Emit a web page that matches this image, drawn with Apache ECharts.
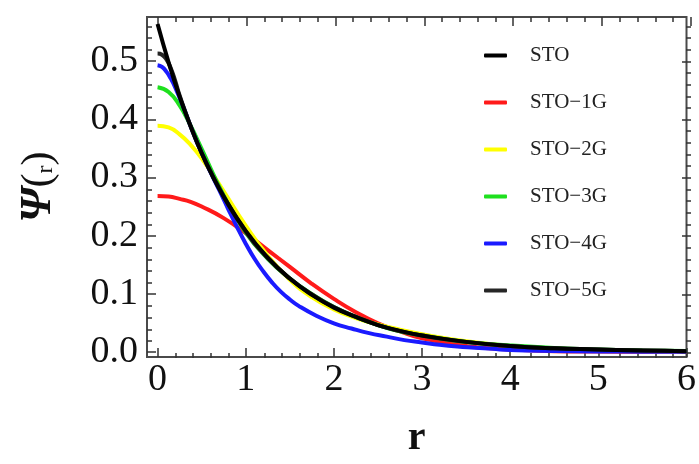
<!DOCTYPE html>
<html>
<head>
<meta charset="utf-8">
<script src="https://cdn.jsdelivr.net/npm/echarts@6/dist/echarts.min.js"></script>
<style>html,body{margin:0;padding:0;background:#fff}#c{width:699px;height:464px}</style>
</head>
<body>
<div id="c"></div>
<script>
// ---- data ----
const seriesNames = ['STO', 'STO\u22121G', 'STO\u22122G', 'STO\u22123G', 'STO\u22124G', 'STO\u22125G'];

const rSTO = [0,0.125,0.25,0.375,0.5,0.625,0.75,1,1.25,1.5,1.75,2,2.25,2.5,2.75,3,3.5,4,4.5,5,5.5,6];
const vSTO = [0.564,0.498,0.439,0.388,0.342,0.302,0.267,0.208,0.162,0.126,0.098,0.076,0.060,0.046,0.036,0.028,0.017,0.010,0.006,0.004,0.002,0.001];

const rG = [0,0.125,0.25,0.375,0.5,0.75,1,1.25,1.5,1.75,2,2.25,2.5,2.75,3,3.5,4,4.5,5,5.5,6];
const v1G = [0.268,0.267,0.263,0.258,0.250,0.230,0.204,0.175,0.146,0.117,0.091,0.068,0.049,0.035,0.023,0.010,0.004,0.001,0.0003,0.0001,0];
const v2G = [0.389,0.386,0.374,0.356,0.333,0.276,0.217,0.165,0.124,0.094,0.073,0.058,0.047,0.038,0.030,0.018,0.010,0.0055,0.0027,0.0012,0.0005];
const v3G = [0.455,0.447,0.424,0.389,0.349,0.269,0.205,0.160,0.126,0.099,0.077,0.060,0.046,0.035,0.028,0.017,0.011,0.0066,0.0039,0.0022,0.0012];

const r4G = [0,0.05,0.1,0.15,0.2,0.3,0.4,0.5,0.6,0.7,0.8,0.9,1.0,1.1,1.2,1.3,1.4,1.5,1.6,1.8,2.0,2.2,2.4,2.6,2.8,3.0,3.2,3.4,3.6,3.8,4.0,4.5,5,5.5,6];
const v4G = [0.493,0.490,0.482,0.470,0.455,0.418,0.378,0.342,0.309,0.278,0.246,0.215,0.186,0.160,0.138,0.119,0.103,0.090,0.079,0.062,0.049,0.040,0.032,0.026,0.020,0.016,0.012,0.009,0.007,0.005,0.003,0.0015,0.0006,0.0002,0.0001];

const r5G = [0,0.05,0.1,0.15,0.2,0.25,0.375,0.5,0.75,1,1.25,1.5,1.75,2,2.5,3,3.5,4,4.5,5,5.5,6];
const v5G = [0.513,0.511,0.503,0.488,0.466,0.441,0.388,0.342,0.267,0.207,0.161,0.126,0.099,0.077,0.046,0.028,0.017,0.010,0.006,0.004,0.002,0.001];

const xTickLabels = [0,1,2,3,4,5,6];
const yTickLabels = [0,0.1,0.2,0.3,0.4,0.5];

// ---- chart ----
const colors = {
  'STO': '#000000',
  'STO\u22121G': '#ff1a1a',
  'STO\u22122G': '#ffff00',
  'STO\u22123G': '#1ee01e',
  'STO\u22124G': '#1a1aff',
  'STO\u22125G': '#262626'
};
const zip = (a, b) => a.map((x, i) => [x, b[i]]);

const xMinor = [];
for (let i = 1; i < 30; i++) { if (i % 5) xMinor.push(+(i * 0.2).toFixed(2)); }
const yMinor = [];
for (let i = 1; i <= 28; i++) { if (i % 5) yMinor.push(+(i * 0.02).toFixed(2)); }

const XMIN = -0.12, XMAX = 6, YMIN = -0.009, YMAX = 0.576;
const serif = 'Liberation Serif';
const tickColor = '#333';
const G = { left: 147, right: 8, top: 17, bottom: 106 };

function xAx(gi, pos, vals, len, labels) {
  return {
    gridIndex: gi, type: 'value', position: pos, min: XMIN, max: XMAX, offset: 0,
    axisLine: { show: false, onZero: false }, splitLine: { show: false },
    axisTick: { show: true, inside: true, length: len, customValues: vals, lineStyle: { color: tickColor, width: 1.5 } },
    axisLabel: labels ? { show: true, customValues: vals, fontFamily: serif, fontSize: 38, color: '#111', margin: 4 } : { show: false }
  };
}
function yAx(gi, pos, vals, len, labels) {
  return {
    gridIndex: gi, type: 'value', position: pos, min: YMIN, max: YMAX, offset: 0,
    axisLine: { show: false, onZero: false }, splitLine: { show: false },
    axisTick: { show: true, inside: true, length: len, customValues: vals, lineStyle: { color: tickColor, width: 1.5 } },
    axisLabel: labels ? { show: true, customValues: vals, fontFamily: serif, fontSize: 38, color: '#111', margin: 9, formatter: v => v.toFixed(1) } : { show: false }
  };
}

const grids = [0, 1, 2, 3].map(i => Object.assign({}, G, i === 0
  ? { show: true, borderColor: '#4a4a4a', borderWidth: 2, backgroundColor: 'transparent' }
  : { show: false }));

const xAxes = [xAx(0, 'bottom', xTickLabels, 9, true), xAx(1, 'bottom', xMinor, 5, false), xAx(2, 'top', xTickLabels, 9, false), xAx(3, 'top', xMinor, 5, false)];
Object.assign(xAxes[0], { name: 'r', nameLocation: 'middle', nameGap: 62, nameTextStyle: { fontFamily: serif, fontSize: 40, fontWeight: 'bold', color: '#111' } });
const yAxes = [yAx(0, 'left', yTickLabels, 9, true), yAx(1, 'left', yMinor, 5, false), yAx(2, 'right', yTickLabels, 9, false), yAx(3, 'right', yMinor, 5, false)];
Object.assign(yAxes[0], {
  name: '{a|\u03A8}{b|(}{c|r}{b|)}', nameLocation: 'middle', nameGap: 86, nameRotate: 90,
  nameTextStyle: { rich: {
    a: { fontFamily: serif, fontSize: 44, fontStyle: 'italic', fontWeight: 'bold', color: '#111' },
    b: { fontFamily: serif, fontSize: 42, color: '#111' },
    c: { fontFamily: serif, fontSize: 24, color: '#111', padding: [14, 0, 0, 0] }
  } }
});

function line(name, r, v) {
  return {
    name, type: 'line', data: zip(r, v), xAxisIndex: 0, yAxisIndex: 0,
    smooth: true, showSymbol: false, symbol: 'none',
    lineStyle: { width: 4, color: colors[name] }, itemStyle: { color: colors[name] }
  };
}

const option = {
  backgroundColor: '#fff',
  animation: false,
  grid: grids,
  legend: {
    orient: 'vertical', left: 479, top: 40, itemWidth: 23, itemHeight: 4, itemGap: 26, icon: 'roundRect',
    data: seriesNames,
    textStyle: { fontFamily: serif, fontSize: 21, color: '#222', padding: [0, 0, 0, 18] }
  },
  xAxis: xAxes,
  yAxis: yAxes,
  series: [
    line(seriesNames[1], rG, v1G),
    line(seriesNames[2], rG, v2G),
    line(seriesNames[3], rG, v3G),
    line(seriesNames[4], r4G, v4G),
    line(seriesNames[5], r5G, v5G),
    line(seriesNames[0], rSTO, vSTO)
  ]
};
const chart = echarts.init(document.getElementById('c'), null, { renderer: 'canvas' });
chart.setOption(option);
</script>
</body>
</html>
